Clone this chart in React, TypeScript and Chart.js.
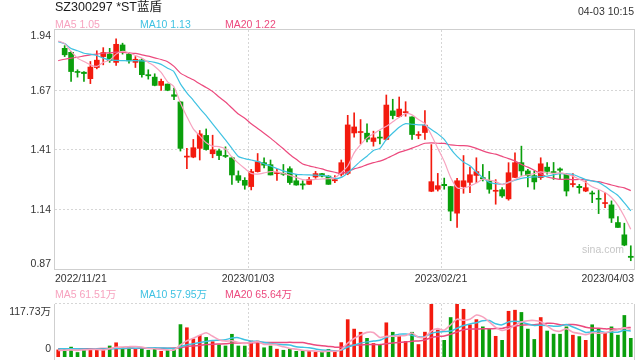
import React, { useEffect, useRef } from 'react';
import { Chart, registerables } from 'chart.js';

Chart.register(...registerables);

const TITLE = 'SZ300297 *ST蓝盾';
const TIME_LABEL = '04-03 10:15';
const WATERMARK = 'sina.com';

const DATES = [
  '2022/11/21','2022/11/22','2022/11/23','2022/11/24','2022/11/25','2022/11/28','2022/11/29','2022/11/30',
  '2022/12/01','2022/12/02','2022/12/05','2022/12/06','2022/12/07','2022/12/08','2022/12/09','2022/12/12',
  '2022/12/13','2022/12/14','2022/12/15','2022/12/16','2022/12/19','2022/12/20','2022/12/21','2022/12/22',
  '2022/12/23','2022/12/26','2022/12/27','2022/12/28','2022/12/29','2022/12/30',
  '2023/01/03','2023/01/04','2023/01/05','2023/01/06','2023/01/09','2023/01/10','2023/01/11','2023/01/12',
  '2023/01/13','2023/01/16','2023/01/17','2023/01/18','2023/01/19','2023/01/20','2023/01/30','2023/01/31',
  '2023/02/01','2023/02/02','2023/02/03','2023/02/06','2023/02/07','2023/02/08','2023/02/09','2023/02/10',
  '2023/02/13','2023/02/14','2023/02/15','2023/02/16','2023/02/17','2023/02/20','2023/02/21','2023/02/22',
  '2023/02/23','2023/02/24','2023/02/27','2023/02/28',
  '2023/03/01','2023/03/02','2023/03/03','2023/03/06','2023/03/07','2023/03/08','2023/03/09','2023/03/10',
  '2023/03/13','2023/03/14','2023/03/15','2023/03/16','2023/03/17','2023/03/20','2023/03/21','2023/03/22',
  '2023/03/23','2023/03/24','2023/03/27','2023/03/28','2023/03/29','2023/03/30','2023/03/31',
  '2023/04/03',
];

const X_TICK_INDEX = [0, 30, 60, 89];
const PRICE_TICKS = [1.94, 1.6725, 1.405, 1.1375, 0.87];
const PRICE_TICK_LABELS = ['1.94', '1.67', '1.41', '1.14', '0.87'];
const VOL_TICKS = [117.73, 0];
const VOL_TICK_LABELS = ['117.73万', '0'];

const OPEN = [null,
  1.858,1.840,1.753,1.751,1.722,1.772,1.821,1.832,1.795,1.873,
  1.832,1.795,1.806,1.740,1.729,1.692,1.698,1.650,1.618,1.371,
  1.371,1.410,1.468,1.386,1.399,1.378,1.368,1.288,1.267,1.239,
  1.306,1.346,1.337,1.297,1.298,1.319,1.265,1.251,1.249,1.282,
  1.297,1.286,1.265,1.294,1.298,1.479,1.481,1.478,1.441,1.459,
  1.450,1.578,1.552,1.570,1.551,1.468,1.481,1.218,1.227,1.249,
  1.239,1.120,1.239,1.258,1.289,1.279,1.264,1.218,1.225,1.184,
  1.280,1.346,1.309,1.288,1.279,1.326,1.306,1.318,1.294,1.248,
  1.240,1.219,1.210,1.185,1.163,1.157,1.078,1.023,0.927];

const HIGH = [null,
  1.870,1.844,1.762,1.754,1.799,1.847,1.861,1.858,1.900,1.881,
  1.840,1.821,1.811,1.762,1.744,1.720,1.698,1.680,1.621,1.410,
  1.450,1.490,1.497,1.469,1.407,1.417,1.371,1.309,1.279,1.316,
  1.387,1.368,1.358,1.316,1.338,1.328,1.294,1.265,1.280,1.307,
  1.298,1.288,1.288,1.358,1.558,1.569,1.539,1.520,1.487,1.487,
  1.649,1.630,1.640,1.619,1.551,1.485,1.579,1.427,1.298,1.277,
  1.240,1.276,1.378,1.326,1.368,1.338,1.307,1.270,1.234,1.346,
  1.390,1.420,1.316,1.309,1.368,1.347,1.347,1.323,1.298,1.297,
  1.249,1.264,1.219,1.222,1.212,1.175,1.105,1.075,0.974];

const LOW = [null,
  1.821,1.710,1.729,1.710,1.700,1.766,1.784,1.795,1.781,1.832,
  1.792,1.772,1.729,1.720,1.690,1.670,1.668,1.628,1.398,1.319,
  1.368,1.358,1.402,1.368,1.359,1.369,1.249,1.257,1.227,1.224,
  1.304,1.323,1.291,1.267,1.289,1.249,1.245,1.227,1.249,1.276,
  1.282,1.249,1.257,1.286,1.292,1.460,1.430,1.439,1.420,1.430,
  1.448,1.542,1.549,1.554,1.450,1.453,1.450,1.216,1.219,1.227,
  1.086,1.056,1.209,1.212,1.257,1.264,1.209,1.160,1.190,1.178,
  1.279,1.289,1.237,1.227,1.271,1.294,1.271,1.274,1.197,1.237,
  1.209,1.216,1.167,1.118,1.145,1.078,1.056,0.974,0.907];

const CLOSE = [null,
  1.829,1.754,1.750,1.745,1.774,1.805,1.839,1.803,1.876,1.844,
  1.802,1.809,1.740,1.735,1.692,1.710,1.670,1.643,1.410,1.375,
  1.413,1.475,1.405,1.404,1.378,1.374,1.291,1.267,1.245,1.306,
  1.350,1.335,1.291,1.300,1.294,1.257,1.246,1.246,1.271,1.297,
  1.286,1.249,1.270,1.346,1.515,1.506,1.484,1.451,1.457,1.456,
  1.604,1.557,1.586,1.573,1.472,1.471,1.514,1.261,1.243,1.243,
  1.129,1.265,1.265,1.292,1.306,1.274,1.227,1.221,1.197,1.301,
  1.346,1.309,1.289,1.260,1.341,1.307,1.301,1.312,1.219,1.251,
  1.234,1.234,1.206,1.182,1.166,1.098,1.056,0.977,0.922];

const MA5 = [
  1.891,1.879,1.844,1.814,1.799,1.784,1.777,1.795,1.805,1.832,
  1.844,1.838,1.826,1.814,1.795,1.777,1.750,1.708,1.686,1.613,
  1.552,1.497,1.466,1.435,1.420,1.418,1.407,1.371,1.344,1.320,
  1.298,1.295,1.300,1.306,1.305,1.298,1.289,1.280,1.270,1.268,
  1.271,1.273,1.274,1.279,1.301,1.331,1.390,1.427,1.457,1.475,
  1.493,1.509,1.529,1.549,1.566,1.560,1.539,1.521,1.470,1.410,
  1.352,1.280,1.234,1.232,1.242,1.255,1.272,1.268,1.262,1.248,
  1.258,1.270,1.285,1.292,1.297,1.305,1.300,1.298,1.300,1.295,
  1.286,1.272,1.258,1.238,1.226,1.212,1.190,1.155,1.105,1.048];

const MA10 = [
  1.888,1.879,1.857,1.847,1.836,1.832,1.826,1.814,1.806,1.804,
  1.803,1.802,1.803,1.802,1.800,1.795,1.786,1.769,1.753,1.699,
  1.659,1.625,1.589,1.557,1.520,1.484,1.448,1.410,1.374,1.364,
  1.358,1.352,1.341,1.331,1.320,1.309,1.301,1.294,1.292,1.291,
  1.290,1.289,1.285,1.275,1.280,1.300,1.326,1.353,1.375,1.401,
  1.410,1.450,1.479,1.505,1.521,1.518,1.515,1.514,1.494,1.475,
  1.450,1.408,1.374,1.349,1.332,1.304,1.279,1.258,1.252,1.249,
  1.258,1.268,1.276,1.280,1.282,1.283,1.286,1.291,1.297,1.296,
  1.294,1.282,1.270,1.264,1.258,1.240,1.219,1.199,1.166,1.130];

const MA20 = [
  1.803,1.809,1.814,1.818,1.824,1.829,1.832,1.836,1.838,1.841,
  1.840,1.838,1.835,1.829,1.823,1.815,1.808,1.798,1.777,1.747,
  1.731,1.717,1.699,1.683,1.665,1.640,1.618,1.591,1.564,1.545,
  1.520,1.499,1.478,1.456,1.432,1.408,1.383,1.361,1.340,1.332,
  1.325,1.318,1.309,1.303,1.298,1.306,1.318,1.326,1.337,1.346,
  1.353,1.364,1.378,1.392,1.401,1.411,1.422,1.433,1.435,1.433,
  1.432,1.426,1.423,1.422,1.419,1.410,1.399,1.390,1.384,1.374,
  1.364,1.353,1.338,1.326,1.312,1.297,1.282,1.276,1.271,1.272,
  1.270,1.271,1.269,1.265,1.261,1.254,1.246,1.239,1.233,1.221];

const VOLUME = [
  15.8,15.8,22,10,16,19,17,16.5,24.5,31.6,
  21,21,19,19.2,15,18,12.6,15,16,72,
  65,40,48,43.5,34,27,24.5,50.5,24.5,24.3,
  35.5,35.3,20.5,24.5,17.4,15,17.4,12.6,12.8,12.5,
  10.3,11.5,17,11.5,32,83,62,55,41.5,30,
  27.7,76,55,46,34.6,55,27.7,55.2,117.73,60,
  37,87.7,117.73,106,71.6,83,67,62,46,37,
  101.6,104,99,62,39,87.7,57.7,50.8,50.6,67,
  48.5,45.4,37,71.6,61.6,53.9,67,48.5,92.3,41.5];

const VOL_MA5 = [
  14.6,14.9,15.8,14.7,15.9,16.6,16.8,15.7,18.6,21.7,
  22.1,22.9,23.4,22.3,19.0,18.4,16.7,15.9,15.3,26.7,
  36.1,41.6,48.2,53.7,46.1,38.5,35.4,35.9,32.1,30.2,
  31.9,34.1,28.1,28.1,26.7,22.6,19.0,17.4,15.0,14.0,
  13.1,11.9,12.8,12.6,16.5,31.0,41.1,48.7,54.7,54.3,
  43.2,46.0,46.0,46.9,47.9,53.3,43.7,43.7,58.0,63.1,
  59.5,71.5,84.0,81.7,84.0,93.2,89.1,77.9,65.9,59.0,
  62.7,70.1,77.5,80.7,81.1,78.3,69.1,59.4,57.2,62.8,
  55.0,52.5,49.7,53.9,52.8,53.9,58.2,60.5,64.7,61.51];

const VOL_MA10 = [
  17.9,18.3,18.6,18.1,17.6,17.4,17.8,17.9,18.4,18.8,
  19.3,19.9,19.6,20.5,20.4,20.3,19.8,19.7,18.8,22.9,
  27.3,29.2,32.1,34.5,36.4,37.3,38.5,42.1,42.9,38.2,
  35.2,34.8,32.0,30.1,28.4,27.2,26.5,22.7,21.6,20.4,
  17.8,15.4,15.1,13.8,15.3,22.1,26.5,30.8,33.6,35.4,
  37.1,43.6,47.4,50.8,51.1,48.3,44.9,44.9,52.5,55.5,
  56.4,57.6,63.9,69.8,73.5,76.3,80.3,81.0,73.8,71.5,
  78.0,79.6,77.7,73.3,70.1,70.5,69.6,68.5,69.0,72.0,
  66.7,60.8,54.6,55.6,57.8,54.4,55.4,55.1,59.3,57.95];

const VOL_MA20 = [
  18.4,18.2,18.5,18.1,18.3,18.6,18.4,18.8,18.9,19.2,
  19.0,19.3,19.1,19.4,19.6,19.5,19.7,19.6,19.9,20.8,
  23.3,24.5,25.8,27.5,28.4,28.8,29.2,30.9,30.9,30.5,
  31.2,32.0,32.0,32.3,32.4,32.3,32.5,32.4,32.2,29.3,
  26.5,25.1,23.5,21.9,21.8,24.6,26.5,26.7,27.6,27.9,
  27.5,29.5,31.2,32.3,33.2,35.2,35.7,37.8,43.1,45.4,
  46.8,50.6,55.6,60.3,62.3,62.3,62.6,62.9,63.1,63.5,
  67.2,68.6,70.8,71.6,71.8,73.4,74.9,74.7,71.4,71.7,
  72.3,70.2,66.2,64.4,63.9,62.5,62.5,61.8,64.1,65.64];

const RED = '#f31a0e';
const GREEN = '#0a9f0c';
const C_MA5 = '#f7a3bf';
const C_MA10 = '#3fc2e2';
const C_MA20 = '#ec4a7e';
const GRID = '#d6d6d6';
const FRAME = '#cfcfcf';
const TEXT = '#333333';
const FONT_FAMILY = '"Liberation Sans", Arial, "Noto Sans CJK SC", sans-serif';
const LABEL_FONT = '10.5px ' + FONT_FAMILY;

const candleColors = OPEN.map((o, i) => {
  const c = CLOSE[i];
  if (o == null || c == null) return RED;
  return c >= o ? RED : GREEN;
});

function drawYLabels(chart: any, ticks: number[], labels: string[], topMin: number, bottomMax: number) {
  const { ctx, chartArea: a, scales } = chart;
  ctx.save();
  ctx.font = LABEL_FONT;
  ctx.fillStyle = TEXT;
  ctx.textAlign = 'right';
  ctx.textBaseline = 'alphabetic';
  ticks.forEach((v, i) => {
    let yb = scales.y.getPixelForValue(v) + 3.75;
    yb = Math.max(a.top + topMin, Math.min(a.bottom - bottomMax, yb));
    ctx.fillText(labels[i], a.left - 4, yb);
  });
  ctx.restore();
}

function drawVGrid(chart: any) {
  const { ctx, chartArea: a, scales } = chart;
  const x = scales.x;
  const half = (x.getPixelForValue(1) - x.getPixelForValue(0)) / 2;
  ctx.beginPath();
  X_TICK_INDEX.slice(1, -1).forEach((idx) => {
    const px = Math.round(x.getPixelForValue(idx) - half) + 0.5;
    ctx.moveTo(px, a.top);
    ctx.lineTo(px, a.bottom);
  });
  ctx.stroke();
}

const mainFrame = {
  id: 'mainFrame',
  beforeDatasetsDraw(chart: any) {
    const { ctx, chartArea: a, scales } = chart;
    ctx.save();
    ctx.strokeStyle = GRID;
    ctx.lineWidth = 1;
    ctx.setLineDash([2, 2]);
    drawVGrid(chart);
    ctx.beginPath();
    PRICE_TICKS.slice(1, -1).forEach((v) => {
      const py = Math.round(scales.y.getPixelForValue(v)) + 0.5;
      ctx.moveTo(a.left, py);
      ctx.lineTo(a.right, py);
    });
    ctx.stroke();
    ctx.restore();
  },
  afterDraw(chart: any) {
    const { ctx, chartArea: a, scales } = chart;
    ctx.save();
    ctx.strokeStyle = FRAME;
    ctx.lineWidth = 1;
    ctx.strokeRect(a.left - 0.5, a.top - 0.5, a.right - a.left + 1, a.bottom - a.top + 1);
    ctx.restore();
    drawYLabels(chart, PRICE_TICKS, PRICE_TICK_LABELS, 9.3, 1.7);
    const x = scales.x;
    const half = (x.getPixelForValue(1) - x.getPixelForValue(0)) / 2;
    ctx.save();
    ctx.font = LABEL_FONT;
    ctx.fillStyle = TEXT;
    ctx.textBaseline = 'alphabetic';
    X_TICK_INDEX.forEach((idx, k) => {
      let px = x.getPixelForValue(idx) - half;
      let align = 'center';
      if (k === 0) { px = a.left; align = 'left'; }
      else if (k === X_TICK_INDEX.length - 1) { px = a.right; align = 'right'; }
      ctx.textAlign = align;
      ctx.fillText(DATES[idx], px, a.bottom + 12.5);
    });
    ctx.restore();
  },
};

const volFrame = {
  id: 'volFrame',
  beforeDatasetsDraw(chart: any) {
    const { ctx, chartArea: a } = chart;
    ctx.save();
    ctx.strokeStyle = GRID;
    ctx.lineWidth = 1;
    ctx.setLineDash([2, 2]);
    drawVGrid(chart);
    ctx.beginPath();
    ctx.moveTo(a.left, Math.round(a.top) - 0.5);
    ctx.lineTo(a.right, Math.round(a.top) - 0.5);
    ctx.stroke();
    ctx.restore();
  },
  afterDraw(chart: any) {
    const { ctx, chartArea: a } = chart;
    ctx.save();
    ctx.strokeStyle = FRAME;
    ctx.lineWidth = 1;
    ctx.beginPath();
    ctx.moveTo(a.left - 0.5, a.top);
    ctx.lineTo(a.left - 0.5, a.bottom + 3);
    ctx.moveTo(a.right + 0.5, a.top);
    ctx.lineTo(a.right + 0.5, a.bottom + 3);
    ctx.stroke();
    ctx.restore();
    drawYLabels(chart, VOL_TICKS, VOL_TICK_LABELS, 11, 5.3);
  },
};

const lineDs = (label: string, data: number[], color: string, width: number, order: number) => ({
  type: 'line',
  label,
  data,
  borderColor: color,
  backgroundColor: color,
  borderWidth: width,
  pointRadius: 0,
  tension: 0.2,
  fill: false,
  order,
});

export default function App() {
  const mainRef = useRef<HTMLCanvasElement>(null);
  const volRef = useRef<HTMLCanvasElement>(null);

  useEffect(() => {
    const bodies = OPEN.map((o, i) => (o == null || CLOSE[i] == null ? null : [o, CLOSE[i]]));
    const wicks = LOW.map((l, i) => (l == null || HIGH[i] == null ? null : [l, HIGH[i]]));

    const main = new Chart(mainRef.current as HTMLCanvasElement, {
      type: 'bar',
      data: {
        labels: DATES,
        datasets: [
          lineDs('MA5', MA5, C_MA5, 1.2, 0),
          lineDs('MA10', MA10, C_MA10, 1.2, 1),
          lineDs('MA20', MA20, C_MA20, 1.2, 2),
          {
            type: 'bar', label: 'body', data: bodies, backgroundColor: candleColors,
            barThickness: 5, grouped: false, minBarLength: 1, order: 3,
          },
          {
            type: 'bar', label: 'wick', data: wicks, backgroundColor: candleColors,
            barThickness: 1, grouped: false, order: 4,
          },
        ] as any,
      },
      options: {
        animation: false,
        responsive: false,
        maintainAspectRatio: false,
        events: [],
        layout: { padding: { left: 55, right: 6, top: 30, bottom: 21 } },
        plugins: { legend: { display: false }, tooltip: { enabled: false } },
        scales: {
          x: { type: 'category', display: false, offset: true },
          y: { type: 'linear', display: false, min: 0.87, max: 1.94 },
        },
      } as any,
      plugins: [mainFrame],
    });

    const vol = new Chart(volRef.current as HTMLCanvasElement, {
      type: 'bar',
      data: {
        labels: DATES,
        datasets: [
          lineDs('MA5', VOL_MA5, C_MA5, 1.6, 0),
          lineDs('MA10', VOL_MA10, C_MA10, 1.5, 1),
          lineDs('MA20', VOL_MA20, C_MA20, 1.5, 2),
          {
            type: 'bar', label: 'vol', data: VOLUME, backgroundColor: candleColors,
            barThickness: 3, grouped: false, order: 3,
          },
        ] as any,
      },
      options: {
        animation: false,
        responsive: false,
        maintainAspectRatio: false,
        events: [],
        layout: { padding: { left: 55, right: 6, top: 14, bottom: 3 } },
        plugins: { legend: { display: false }, tooltip: { enabled: false } },
        scales: {
          x: { type: 'category', display: false, offset: true },
          y: { type: 'linear', display: false, min: 0, max: 117.73 },
        },
      } as any,
      plugins: [volFrame],
    });

    return () => {
      main.destroy();
      vol.destroy();
    };
  }, []);

  const txt = (text: string, left: number, baseline: number, size: number, color: string, key?: string) => (
    <div
      key={key}
      style={{
        position: 'absolute', left, top: baseline - 0.8465 * size, fontSize: size,
        lineHeight: size + 'px', color, whiteSpace: 'nowrap', fontFamily: FONT_FAMILY,
      }}
    >
      {text}
    </div>
  );

  const last = DATES.length - 1;
  const mainLegend = [
    ['MA5 ' + MA5[last].toFixed(2), C_MA5, 55],
    ['MA10 ' + MA10[last].toFixed(2), C_MA10, 140],
    ['MA20 ' + MA20[last].toFixed(2), C_MA20, 225],
  ] as [string, string, number][];
  const volLegend = [
    ['MA5 ' + VOL_MA5[last].toFixed(2) + '万', C_MA5, 55],
    ['MA10 ' + VOL_MA10[last].toFixed(2) + '万', C_MA10, 140],
    ['MA20 ' + VOL_MA20[last].toFixed(2) + '万', C_MA20, 225],
  ] as [string, string, number][];

  return (
    <div style={{ position: 'fixed', left: 0, top: 0, width: 640, height: 360, background: '#fff', overflow: 'hidden' }}>
      <canvas ref={mainRef} width={640} height={290} style={{ position: 'absolute', left: 0, top: 0, display: 'block' }} />
      <canvas ref={volRef} width={640} height={70} style={{ position: 'absolute', left: 0, top: 290, display: 'block' }} />
      {txt(TITLE, 55, 12, 12.5, '#1a1a1a')}
      <div
        style={{
          position: 'absolute', right: 6, top: 15 - 0.8465 * 10.5, fontSize: 10.5, lineHeight: '10.5px',
          color: TEXT, whiteSpace: 'nowrap', fontFamily: FONT_FAMILY,
        }}
      >
        {TIME_LABEL}
      </div>
      {mainLegend.map(([t, c, x]) => txt(t, x, 27.7, 10.5, c, 'm' + t))}
      {volLegend.map(([t, c, x]) => txt(t, x, 297.5, 10.5, c, 'v' + t))}
      <div
        style={{
          position: 'absolute', right: 16, top: 253 - 0.8465 * 10.5, fontSize: 10.5, lineHeight: '10.5px',
          color: '#c6c6c6', whiteSpace: 'nowrap', fontFamily: FONT_FAMILY,
        }}
      >
        {WATERMARK}
      </div>
    </div>
  );
}
